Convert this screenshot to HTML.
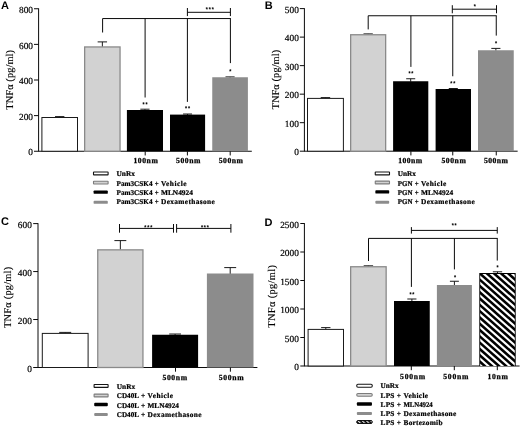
<!DOCTYPE html>
<html><head><meta charset="utf-8"><title>Figure</title>
<style>
html,body{margin:0;padding:0;background:#fff;}
body{width:520px;height:426px;overflow:hidden;font-family:"Liberation Serif",serif;}
svg{display:block;filter:blur(0.35px);} text{text-rendering:geometricPrecision;}
</style></head><body>
<svg width="520" height="426" viewBox="0 0 520 426">
<defs>
<pattern id="hatch" patternUnits="userSpaceOnUse" width="4.5" height="4.5" patternTransform="rotate(40) translate(0,1.2)">
<rect width="4.5" height="4.5" fill="#fff"/><rect y="0" width="4.5" height="2.5" fill="#000"/>
</pattern>
<pattern id="hatch2" patternUnits="userSpaceOnUse" width="3" height="3" patternTransform="rotate(45)">
<rect width="3" height="3" fill="#fff"/><rect y="0" width="3" height="1.7" fill="#000"/>
</pattern>
</defs>
<rect width="520" height="426" fill="#fff"/>
<text x="1.00" y="9.00" font-size="11.0" text-anchor="start" font-weight="bold" font-family="Liberation Sans" >A</text>
<line x1="38.60" y1="8.35" x2="38.60" y2="151.25" stroke="#0a0a0a" stroke-width="1.0"/>
<line x1="38.20" y1="151.25" x2="251.80" y2="151.25" stroke="#0a0a0a" stroke-width="1.0"/>
<line x1="34.00" y1="151.25" x2="38.60" y2="151.25" stroke="#0a0a0a" stroke-width="1.0"/>
<text x="33.00" y="155.45" font-size="9.3" text-anchor="end" font-family="Liberation Serif" stroke="#000" stroke-width="0.2">0</text>
<line x1="34.00" y1="115.62" x2="38.60" y2="115.62" stroke="#0a0a0a" stroke-width="1.0"/>
<text x="33.00" y="119.83" font-size="9.3" text-anchor="end" font-family="Liberation Serif" stroke="#000" stroke-width="0.2">200</text>
<line x1="34.00" y1="80.00" x2="38.60" y2="80.00" stroke="#0a0a0a" stroke-width="1.0"/>
<text x="33.00" y="84.20" font-size="9.3" text-anchor="end" font-family="Liberation Serif" stroke="#000" stroke-width="0.2">400</text>
<line x1="34.00" y1="44.38" x2="38.60" y2="44.38" stroke="#0a0a0a" stroke-width="1.0"/>
<text x="33.00" y="48.58" font-size="9.3" text-anchor="end" font-family="Liberation Serif" stroke="#000" stroke-width="0.2">600</text>
<line x1="34.00" y1="8.75" x2="38.60" y2="8.75" stroke="#0a0a0a" stroke-width="1.0"/>
<text x="33.00" y="12.95" font-size="9.3" text-anchor="end" font-family="Liberation Serif" stroke="#000" stroke-width="0.2">800</text>
<text transform="translate(13.10,79.80) rotate(-90)" font-size="10.4" letter-spacing="0.08" stroke="#000" stroke-width="0.12" text-anchor="middle" font-family="Liberation Serif">TNFα (pg/ml)</text>
<line x1="59.70" y1="116.60" x2="59.70" y2="117.50" stroke="#1a1a1a" stroke-width="1.0"/>
<line x1="55.02" y1="116.60" x2="64.38" y2="116.60" stroke="#1a1a1a" stroke-width="1.0"/>
<rect x="41.90" y="117.50" width="35.60" height="33.75" fill="#ffffff" stroke="#1a1a1a" stroke-width="1.0"/>
<line x1="102.35" y1="41.90" x2="102.35" y2="46.80" stroke="#1a1a1a" stroke-width="1.0"/>
<line x1="97.65" y1="41.90" x2="107.05" y2="41.90" stroke="#1a1a1a" stroke-width="1.0"/>
<rect x="84.65" y="46.95" width="35.40" height="104.30" fill="#d2d2d2" stroke="#8a8a8a" stroke-width="1.3"/>
<line x1="144.95" y1="109.20" x2="144.95" y2="110.50" stroke="#1a1a1a" stroke-width="1.0"/>
<line x1="140.33" y1="109.20" x2="149.57" y2="109.20" stroke="#1a1a1a" stroke-width="1.0"/>
<rect x="126.90" y="110.00" width="36.10" height="41.25" fill="#000000"/>
<line x1="187.55" y1="114.00" x2="187.55" y2="115.10" stroke="#1a1a1a" stroke-width="1.0"/>
<line x1="183.06" y1="114.00" x2="192.04" y2="114.00" stroke="#1a1a1a" stroke-width="1.0"/>
<rect x="170.00" y="114.60" width="35.10" height="36.65" fill="#000000"/>
<line x1="230.07" y1="76.90" x2="230.07" y2="77.75" stroke="#1a1a1a" stroke-width="1.0"/>
<line x1="225.51" y1="76.90" x2="234.64" y2="76.90" stroke="#1a1a1a" stroke-width="1.0"/>
<rect x="212.25" y="77.25" width="35.65" height="74.00" fill="#8c8c8c"/>
<line x1="145.20" y1="151.25" x2="145.20" y2="155.45" stroke="#0a0a0a" stroke-width="1.0"/>
<text x="133.50" y="163.15" font-size="7.7" font-weight="bold" font-family="Liberation Serif" textLength="24.30" lengthAdjust="spacing" stroke="#000" stroke-width="0.25">100nm</text>
<line x1="187.40" y1="151.25" x2="187.40" y2="155.45" stroke="#0a0a0a" stroke-width="1.0"/>
<text x="176.10" y="163.15" font-size="7.7" font-weight="bold" font-family="Liberation Serif" textLength="24.30" lengthAdjust="spacing" stroke="#000" stroke-width="0.25">500nm</text>
<line x1="230.20" y1="151.25" x2="230.20" y2="155.45" stroke="#0a0a0a" stroke-width="1.0"/>
<text x="218.70" y="163.15" font-size="7.7" font-weight="bold" font-family="Liberation Serif" textLength="24.30" lengthAdjust="spacing" stroke="#000" stroke-width="0.25">500nm</text>
<rect x="93.50" y="171.95" width="14.60" height="2.9" rx="0.4" fill="#fff" stroke="#151515" stroke-width="1.1"/>
<text x="116.50" y="176.10" font-size="7.35" font-weight="bold" font-family="Liberation Serif" textLength="18.40" lengthAdjust="spacing" stroke="#000" stroke-width="0.22">UnRx</text>
<rect x="93.50" y="181.20" width="14.60" height="2.8" rx="0.4" fill="#d2d2d2" stroke="#7c7c7c" stroke-width="1.1"/>
<text x="116.50" y="185.50" font-size="7.35" font-weight="bold" font-family="Liberation Serif" textLength="36.00" lengthAdjust="spacingAndGlyphs" stroke="#000" stroke-width="0.22">Pam3CSK4</text>
<text x="154.80" y="185.50" font-size="7.35" font-weight="bold" font-family="Liberation Serif" textLength="3.95" lengthAdjust="spacingAndGlyphs" stroke="#000" stroke-width="0.22">+</text>
<text x="161.00" y="185.50" font-size="7.35" font-weight="bold" font-family="Liberation Serif" textLength="25.50" lengthAdjust="spacing" stroke="#000" stroke-width="0.22">Vehicle</text>
<rect x="93.60" y="190.40" width="14.20" height="3.4" rx="0.9" fill="#000"/>
<text x="116.50" y="194.90" font-size="7.35" font-weight="bold" font-family="Liberation Serif" textLength="36.00" lengthAdjust="spacingAndGlyphs" stroke="#000" stroke-width="0.22">Pam3CSK4</text>
<text x="154.80" y="194.90" font-size="7.35" font-weight="bold" font-family="Liberation Serif" textLength="3.95" lengthAdjust="spacingAndGlyphs" stroke="#000" stroke-width="0.22">+</text>
<text x="161.00" y="194.90" font-size="7.35" font-weight="bold" font-family="Liberation Serif" textLength="31.90" lengthAdjust="spacing" stroke="#000" stroke-width="0.22">MLN4924</text>
<rect x="93.60" y="200.80" width="14.20" height="3.0" rx="0.9" fill="#8c8c8c"/>
<text x="116.50" y="204.30" font-size="7.35" font-weight="bold" font-family="Liberation Serif" textLength="36.00" lengthAdjust="spacingAndGlyphs" stroke="#000" stroke-width="0.22">Pam3CSK4</text>
<text x="154.80" y="204.30" font-size="7.35" font-weight="bold" font-family="Liberation Serif" textLength="3.95" lengthAdjust="spacingAndGlyphs" stroke="#000" stroke-width="0.22">+</text>
<text x="161.00" y="204.30" font-size="7.35" font-weight="bold" font-family="Liberation Serif" textLength="53.75" lengthAdjust="spacing" stroke="#000" stroke-width="0.22">Dexamethasone</text>
<line x1="102.60" y1="18.55" x2="230.85" y2="18.55" stroke="#0a0a0a" stroke-width="1.0"/>
<line x1="102.60" y1="18.55" x2="102.60" y2="32.50" stroke="#0a0a0a" stroke-width="1.0"/>
<line x1="145.10" y1="18.55" x2="145.10" y2="97.50" stroke="#0a0a0a" stroke-width="1.0"/>
<line x1="187.40" y1="18.55" x2="187.40" y2="101.90" stroke="#0a0a0a" stroke-width="1.0"/>
<line x1="230.40" y1="18.55" x2="230.40" y2="63.10" stroke="#0a0a0a" stroke-width="1.0"/>
<line x1="187.40" y1="8.00" x2="187.40" y2="16.10" stroke="#0a0a0a" stroke-width="1.0"/>
<line x1="230.40" y1="8.00" x2="230.40" y2="16.10" stroke="#0a0a0a" stroke-width="1.0"/>
<line x1="187.40" y1="12.30" x2="230.40" y2="12.30" stroke="#0a0a0a" stroke-width="1.0"/>
<text x="210.18" y="11.12" font-size="5.3" text-anchor="middle" font-weight="bold" letter-spacing="0.85" font-family="Liberation Sans" stroke="#000" stroke-width="0.15">***</text>
<text x="145.43" y="105.52" font-size="5.3" text-anchor="middle" font-weight="bold" letter-spacing="0.85" font-family="Liberation Sans" stroke="#000" stroke-width="0.15">**</text>
<text x="187.93" y="110.32" font-size="5.3" text-anchor="middle" font-weight="bold" letter-spacing="0.85" font-family="Liberation Sans" stroke="#000" stroke-width="0.15">**</text>
<text x="230.68" y="73.27" font-size="5.3" text-anchor="middle" font-weight="bold" letter-spacing="0.85" font-family="Liberation Sans" stroke="#000" stroke-width="0.15">*</text>
<text x="264.70" y="9.10" font-size="11.0" text-anchor="start" font-weight="bold" font-family="Liberation Sans" >B</text>
<line x1="304.40" y1="8.20" x2="304.40" y2="151.20" stroke="#0a0a0a" stroke-width="1.0"/>
<line x1="304.00" y1="151.20" x2="517.65" y2="151.20" stroke="#0a0a0a" stroke-width="1.0"/>
<line x1="299.80" y1="151.20" x2="304.40" y2="151.20" stroke="#0a0a0a" stroke-width="1.0"/>
<text x="298.80" y="155.40" font-size="9.3" text-anchor="end" font-family="Liberation Serif" stroke="#000" stroke-width="0.2">0</text>
<line x1="299.80" y1="122.68" x2="304.40" y2="122.68" stroke="#0a0a0a" stroke-width="1.0"/>
<text x="298.80" y="126.88" font-size="9.3" text-anchor="end" font-family="Liberation Serif" stroke="#000" stroke-width="0.2">100</text>
<line x1="299.80" y1="94.16" x2="304.40" y2="94.16" stroke="#0a0a0a" stroke-width="1.0"/>
<text x="298.80" y="98.36" font-size="9.3" text-anchor="end" font-family="Liberation Serif" stroke="#000" stroke-width="0.2">200</text>
<line x1="299.80" y1="65.64" x2="304.40" y2="65.64" stroke="#0a0a0a" stroke-width="1.0"/>
<text x="298.80" y="69.84" font-size="9.3" text-anchor="end" font-family="Liberation Serif" stroke="#000" stroke-width="0.2">300</text>
<line x1="299.80" y1="37.12" x2="304.40" y2="37.12" stroke="#0a0a0a" stroke-width="1.0"/>
<text x="298.80" y="41.32" font-size="9.3" text-anchor="end" font-family="Liberation Serif" stroke="#000" stroke-width="0.2">400</text>
<line x1="299.80" y1="8.60" x2="304.40" y2="8.60" stroke="#0a0a0a" stroke-width="1.0"/>
<text x="298.80" y="12.80" font-size="9.3" text-anchor="end" font-family="Liberation Serif" stroke="#000" stroke-width="0.2">500</text>
<text transform="translate(278.80,79.60) rotate(-90)" font-size="10.4" letter-spacing="0.08" stroke="#000" stroke-width="0.12" text-anchor="middle" font-family="Liberation Serif">TNFα (pg/ml)</text>
<line x1="325.45" y1="97.60" x2="325.45" y2="98.40" stroke="#1a1a1a" stroke-width="1.0"/>
<line x1="320.73" y1="97.60" x2="330.17" y2="97.60" stroke="#1a1a1a" stroke-width="1.0"/>
<rect x="307.50" y="98.40" width="35.90" height="52.80" fill="#ffffff" stroke="#1a1a1a" stroke-width="1.0"/>
<line x1="368.15" y1="33.90" x2="368.15" y2="34.60" stroke="#1a1a1a" stroke-width="1.0"/>
<line x1="363.50" y1="33.90" x2="372.80" y2="33.90" stroke="#1a1a1a" stroke-width="1.0"/>
<rect x="350.65" y="34.75" width="35.00" height="116.45" fill="#d2d2d2" stroke="#8a8a8a" stroke-width="1.3"/>
<line x1="410.70" y1="78.75" x2="410.70" y2="81.75" stroke="#1a1a1a" stroke-width="1.0"/>
<line x1="406.19" y1="78.75" x2="415.21" y2="78.75" stroke="#1a1a1a" stroke-width="1.0"/>
<rect x="393.10" y="81.25" width="35.20" height="69.95" fill="#000000"/>
<line x1="453.30" y1="88.50" x2="453.30" y2="89.50" stroke="#1a1a1a" stroke-width="1.0"/>
<line x1="448.77" y1="88.50" x2="457.83" y2="88.50" stroke="#1a1a1a" stroke-width="1.0"/>
<rect x="435.60" y="89.00" width="35.40" height="62.20" fill="#000000"/>
<line x1="495.88" y1="48.40" x2="495.88" y2="50.75" stroke="#1a1a1a" stroke-width="1.0"/>
<line x1="491.30" y1="48.40" x2="500.45" y2="48.40" stroke="#1a1a1a" stroke-width="1.0"/>
<rect x="478.00" y="50.25" width="35.75" height="100.95" fill="#8c8c8c"/>
<line x1="410.90" y1="151.20" x2="410.90" y2="155.40" stroke="#0a0a0a" stroke-width="1.0"/>
<text x="398.30" y="163.10" font-size="7.7" font-weight="bold" font-family="Liberation Serif" textLength="23.90" lengthAdjust="spacing" stroke="#000" stroke-width="0.25">100nm</text>
<line x1="452.75" y1="151.20" x2="452.75" y2="155.40" stroke="#0a0a0a" stroke-width="1.0"/>
<text x="441.50" y="163.10" font-size="7.7" font-weight="bold" font-family="Liberation Serif" textLength="24.30" lengthAdjust="spacing" stroke="#000" stroke-width="0.25">500nm</text>
<line x1="496.25" y1="151.20" x2="496.25" y2="155.40" stroke="#0a0a0a" stroke-width="1.0"/>
<text x="484.00" y="163.10" font-size="7.7" font-weight="bold" font-family="Liberation Serif" textLength="23.90" lengthAdjust="spacing" stroke="#000" stroke-width="0.25">500nm</text>
<rect x="375.25" y="171.95" width="14.25" height="2.9" rx="0.4" fill="#fff" stroke="#151515" stroke-width="1.1"/>
<text x="397.75" y="176.25" font-size="7.35" font-weight="bold" font-family="Liberation Serif" textLength="18.25" lengthAdjust="spacingAndGlyphs" stroke="#000" stroke-width="0.22">UnRx</text>
<rect x="375.25" y="181.10" width="14.25" height="2.8" rx="0.4" fill="#d2d2d2" stroke="#7c7c7c" stroke-width="1.1"/>
<text x="397.75" y="185.60" font-size="7.35" font-weight="bold" font-family="Liberation Serif" textLength="14.75" lengthAdjust="spacingAndGlyphs" stroke="#000" stroke-width="0.22">PGN</text>
<text x="414.80" y="185.60" font-size="7.35" font-weight="bold" font-family="Liberation Serif" textLength="3.95" lengthAdjust="spacingAndGlyphs" stroke="#000" stroke-width="0.22">+</text>
<text x="421.00" y="185.60" font-size="7.35" font-weight="bold" font-family="Liberation Serif" textLength="25.25" lengthAdjust="spacing" stroke="#000" stroke-width="0.22">Vehicle</text>
<rect x="375.35" y="190.20" width="13.85" height="3.4" rx="0.9" fill="#000"/>
<text x="397.75" y="195.00" font-size="7.35" font-weight="bold" font-family="Liberation Serif" textLength="14.75" lengthAdjust="spacingAndGlyphs" stroke="#000" stroke-width="0.22">PGN</text>
<text x="414.80" y="195.00" font-size="7.35" font-weight="bold" font-family="Liberation Serif" textLength="3.95" lengthAdjust="spacingAndGlyphs" stroke="#000" stroke-width="0.22">+</text>
<text x="421.00" y="195.00" font-size="7.35" font-weight="bold" font-family="Liberation Serif" textLength="32.10" lengthAdjust="spacing" stroke="#000" stroke-width="0.22">MLN4924</text>
<rect x="375.35" y="200.75" width="13.85" height="3.0" rx="0.9" fill="#8c8c8c"/>
<text x="397.75" y="204.40" font-size="7.35" font-weight="bold" font-family="Liberation Serif" textLength="14.75" lengthAdjust="spacingAndGlyphs" stroke="#000" stroke-width="0.22">PGN</text>
<text x="414.80" y="204.40" font-size="7.35" font-weight="bold" font-family="Liberation Serif" textLength="3.95" lengthAdjust="spacingAndGlyphs" stroke="#000" stroke-width="0.22">+</text>
<text x="421.00" y="204.40" font-size="7.35" font-weight="bold" font-family="Liberation Serif" textLength="53.75" lengthAdjust="spacing" stroke="#000" stroke-width="0.22">Dexamethasone</text>
<line x1="368.20" y1="15.75" x2="496.70" y2="15.75" stroke="#0a0a0a" stroke-width="1.0"/>
<line x1="368.20" y1="15.75" x2="368.20" y2="29.40" stroke="#0a0a0a" stroke-width="1.0"/>
<line x1="410.90" y1="15.75" x2="410.90" y2="66.90" stroke="#0a0a0a" stroke-width="1.0"/>
<line x1="452.75" y1="15.75" x2="452.75" y2="76.25" stroke="#0a0a0a" stroke-width="1.0"/>
<line x1="496.25" y1="15.75" x2="496.25" y2="35.60" stroke="#0a0a0a" stroke-width="1.0"/>
<line x1="452.30" y1="5.20" x2="452.30" y2="13.30" stroke="#0a0a0a" stroke-width="1.0"/>
<line x1="496.50" y1="5.20" x2="496.50" y2="13.30" stroke="#0a0a0a" stroke-width="1.0"/>
<line x1="452.30" y1="9.20" x2="496.50" y2="9.20" stroke="#0a0a0a" stroke-width="1.0"/>
<text x="475.18" y="8.22" font-size="5.3" text-anchor="middle" font-weight="bold" letter-spacing="0.85" font-family="Liberation Sans" stroke="#000" stroke-width="0.15">*</text>
<text x="411.32" y="75.12" font-size="5.3" text-anchor="middle" font-weight="bold" letter-spacing="0.85" font-family="Liberation Sans" stroke="#000" stroke-width="0.15">**</text>
<text x="453.18" y="84.52" font-size="5.3" text-anchor="middle" font-weight="bold" letter-spacing="0.85" font-family="Liberation Sans" stroke="#000" stroke-width="0.15">**</text>
<text x="496.43" y="45.27" font-size="5.3" text-anchor="middle" font-weight="bold" letter-spacing="0.85" font-family="Liberation Sans" stroke="#000" stroke-width="0.15">*</text>
<text x="1.00" y="225.40" font-size="11.0" text-anchor="start" font-weight="bold" font-family="Liberation Sans" >C</text>
<line x1="38.00" y1="223.20" x2="38.00" y2="367.50" stroke="#0a0a0a" stroke-width="1.0"/>
<line x1="37.60" y1="367.50" x2="257.40" y2="367.50" stroke="#0a0a0a" stroke-width="1.0"/>
<line x1="33.20" y1="367.50" x2="38.00" y2="367.50" stroke="#0a0a0a" stroke-width="1.0"/>
<text x="31.80" y="371.70" font-size="9.3" text-anchor="end" font-family="Liberation Serif" stroke="#000" stroke-width="0.2">0</text>
<line x1="33.20" y1="319.53" x2="38.00" y2="319.53" stroke="#0a0a0a" stroke-width="1.0"/>
<text x="31.80" y="323.73" font-size="9.3" text-anchor="end" font-family="Liberation Serif" stroke="#000" stroke-width="0.2">200</text>
<line x1="33.20" y1="271.57" x2="38.00" y2="271.57" stroke="#0a0a0a" stroke-width="1.0"/>
<text x="31.80" y="275.77" font-size="9.3" text-anchor="end" font-family="Liberation Serif" stroke="#000" stroke-width="0.2">400</text>
<line x1="33.20" y1="223.60" x2="38.00" y2="223.60" stroke="#0a0a0a" stroke-width="1.0"/>
<text x="31.80" y="227.80" font-size="9.3" text-anchor="end" font-family="Liberation Serif" stroke="#000" stroke-width="0.2">600</text>
<text transform="translate(10.50,297.30) rotate(-90)" font-size="10.4" letter-spacing="0.2" stroke="#000" stroke-width="0.12" text-anchor="middle" font-family="Liberation Serif">TNFα (pg/ml)</text>
<line x1="65.20" y1="332.40" x2="65.20" y2="333.40" stroke="#1a1a1a" stroke-width="1.0"/>
<line x1="59.21" y1="332.40" x2="71.19" y2="332.40" stroke="#1a1a1a" stroke-width="1.0"/>
<rect x="42.30" y="333.40" width="45.80" height="34.10" fill="#ffffff" stroke="#1a1a1a" stroke-width="1.0"/>
<line x1="120.35" y1="240.60" x2="120.35" y2="249.70" stroke="#1a1a1a" stroke-width="1.0"/>
<line x1="114.40" y1="240.60" x2="126.30" y2="240.60" stroke="#1a1a1a" stroke-width="1.0"/>
<rect x="97.75" y="249.85" width="45.20" height="117.65" fill="#d2d2d2" stroke="#8a8a8a" stroke-width="1.3"/>
<line x1="175.10" y1="334.00" x2="175.10" y2="335.25" stroke="#1a1a1a" stroke-width="1.0"/>
<line x1="169.21" y1="334.00" x2="180.99" y2="334.00" stroke="#1a1a1a" stroke-width="1.0"/>
<rect x="152.10" y="334.75" width="46.00" height="32.75" fill="#000000"/>
<line x1="230.20" y1="267.60" x2="230.20" y2="274.00" stroke="#1a1a1a" stroke-width="1.0"/>
<line x1="224.24" y1="267.60" x2="236.16" y2="267.60" stroke="#1a1a1a" stroke-width="1.0"/>
<rect x="206.90" y="273.50" width="46.60" height="94.00" fill="#8c8c8c"/>
<line x1="175.50" y1="367.50" x2="175.50" y2="371.70" stroke="#0a0a0a" stroke-width="1.0"/>
<text x="162.45" y="379.50" font-size="7.7" font-weight="bold" font-family="Liberation Serif" textLength="24.60" lengthAdjust="spacing" stroke="#000" stroke-width="0.25">500nm</text>
<line x1="230.40" y1="367.50" x2="230.40" y2="371.70" stroke="#0a0a0a" stroke-width="1.0"/>
<text x="218.80" y="379.50" font-size="7.7" font-weight="bold" font-family="Liberation Serif" textLength="24.90" lengthAdjust="spacing" stroke="#000" stroke-width="0.25">500nm</text>
<rect x="94.10" y="384.45" width="14.00" height="2.9" rx="0.4" fill="#fff" stroke="#151515" stroke-width="1.1"/>
<text x="116.75" y="388.60" font-size="7.35" font-weight="bold" font-family="Liberation Serif" textLength="18.50" lengthAdjust="spacing" stroke="#000" stroke-width="0.22">UnRx</text>
<rect x="94.10" y="394.10" width="14.00" height="2.8" rx="0.4" fill="#d2d2d2" stroke="#7c7c7c" stroke-width="1.1"/>
<text x="116.75" y="398.25" font-size="7.35" font-weight="bold" font-family="Liberation Serif" textLength="22.25" lengthAdjust="spacingAndGlyphs" stroke="#000" stroke-width="0.22">CD40L</text>
<text x="141.05" y="398.25" font-size="7.35" font-weight="bold" font-family="Liberation Serif" textLength="4.20" lengthAdjust="spacing" stroke="#000" stroke-width="0.22">+</text>
<text x="147.50" y="398.25" font-size="7.35" font-weight="bold" font-family="Liberation Serif" textLength="25.60" lengthAdjust="spacing" stroke="#000" stroke-width="0.22">Vehicle</text>
<rect x="94.20" y="402.80" width="13.60" height="3.4" rx="0.9" fill="#000"/>
<text x="116.75" y="407.60" font-size="7.35" font-weight="bold" font-family="Liberation Serif" textLength="22.25" lengthAdjust="spacingAndGlyphs" stroke="#000" stroke-width="0.22">CD40L</text>
<text x="141.05" y="407.60" font-size="7.35" font-weight="bold" font-family="Liberation Serif" textLength="4.20" lengthAdjust="spacing" stroke="#000" stroke-width="0.22">+</text>
<text x="147.50" y="407.60" font-size="7.35" font-weight="bold" font-family="Liberation Serif" textLength="31.50" lengthAdjust="spacingAndGlyphs" stroke="#000" stroke-width="0.22">MLN4924</text>
<rect x="94.20" y="413.00" width="13.60" height="3.0" rx="0.9" fill="#8c8c8c"/>
<text x="116.75" y="417.00" font-size="7.35" font-weight="bold" font-family="Liberation Serif" textLength="22.25" lengthAdjust="spacingAndGlyphs" stroke="#000" stroke-width="0.22">CD40L</text>
<text x="141.05" y="417.00" font-size="7.35" font-weight="bold" font-family="Liberation Serif" textLength="4.20" lengthAdjust="spacing" stroke="#000" stroke-width="0.22">+</text>
<text x="147.50" y="417.00" font-size="7.35" font-weight="bold" font-family="Liberation Serif" textLength="54.00" lengthAdjust="spacing" stroke="#000" stroke-width="0.22">Dexamethasone</text>
<line x1="119.50" y1="228.40" x2="173.50" y2="228.40" stroke="#0a0a0a" stroke-width="1.0"/>
<line x1="176.60" y1="228.40" x2="230.90" y2="228.40" stroke="#0a0a0a" stroke-width="1.0"/>
<line x1="119.50" y1="224.00" x2="119.50" y2="232.70" stroke="#0a0a0a" stroke-width="1.0"/>
<line x1="173.50" y1="224.00" x2="173.50" y2="232.70" stroke="#0a0a0a" stroke-width="1.0"/>
<line x1="176.60" y1="224.00" x2="176.60" y2="232.70" stroke="#0a0a0a" stroke-width="1.0"/>
<line x1="230.90" y1="224.00" x2="230.90" y2="232.70" stroke="#0a0a0a" stroke-width="1.0"/>
<text x="148.68" y="228.92" font-size="5.3" text-anchor="middle" font-weight="bold" letter-spacing="0.85" font-family="Liberation Sans" stroke="#000" stroke-width="0.15">***</text>
<text x="205.33" y="228.92" font-size="5.3" text-anchor="middle" font-weight="bold" letter-spacing="0.85" font-family="Liberation Sans" stroke="#000" stroke-width="0.15">***</text>
<text x="264.50" y="225.50" font-size="11.0" text-anchor="start" font-weight="bold" font-family="Liberation Sans" >D</text>
<line x1="304.40" y1="223.10" x2="304.40" y2="366.00" stroke="#0a0a0a" stroke-width="1.0"/>
<line x1="304.00" y1="366.00" x2="519.60" y2="366.00" stroke="#0a0a0a" stroke-width="1.0"/>
<line x1="300.30" y1="366.00" x2="304.40" y2="366.00" stroke="#0a0a0a" stroke-width="1.0"/>
<text x="298.80" y="370.20" font-size="9.3" text-anchor="end" font-family="Liberation Serif" stroke="#000" stroke-width="0.2">0</text>
<line x1="300.30" y1="337.50" x2="304.40" y2="337.50" stroke="#0a0a0a" stroke-width="1.0"/>
<text x="298.80" y="341.70" font-size="9.3" text-anchor="end" font-family="Liberation Serif" stroke="#000" stroke-width="0.2">500</text>
<line x1="300.30" y1="309.00" x2="304.40" y2="309.00" stroke="#0a0a0a" stroke-width="1.0"/>
<text x="298.80" y="313.20" font-size="9.3" text-anchor="end" font-family="Liberation Serif" stroke="#000" stroke-width="0.2">1000</text>
<line x1="300.30" y1="280.50" x2="304.40" y2="280.50" stroke="#0a0a0a" stroke-width="1.0"/>
<text x="298.80" y="284.70" font-size="9.3" text-anchor="end" font-family="Liberation Serif" stroke="#000" stroke-width="0.2">1500</text>
<line x1="300.30" y1="252.00" x2="304.40" y2="252.00" stroke="#0a0a0a" stroke-width="1.0"/>
<text x="298.80" y="256.20" font-size="9.3" text-anchor="end" font-family="Liberation Serif" stroke="#000" stroke-width="0.2">2000</text>
<line x1="300.30" y1="223.50" x2="304.40" y2="223.50" stroke="#0a0a0a" stroke-width="1.0"/>
<text x="298.80" y="227.70" font-size="9.3" text-anchor="end" font-family="Liberation Serif" stroke="#000" stroke-width="0.2">2500</text>
<text transform="translate(274.50,296.20) rotate(-90)" font-size="10.4" letter-spacing="0.35" stroke="#000" stroke-width="0.12" text-anchor="middle" font-family="Liberation Serif">TNFα (pg/ml)</text>
<line x1="325.80" y1="327.60" x2="325.80" y2="329.40" stroke="#1a1a1a" stroke-width="1.0"/>
<line x1="321.14" y1="327.60" x2="330.46" y2="327.60" stroke="#1a1a1a" stroke-width="1.0"/>
<rect x="308.10" y="329.40" width="35.40" height="36.60" fill="#ffffff" stroke="#1a1a1a" stroke-width="1.0"/>
<line x1="368.40" y1="265.80" x2="368.40" y2="266.60" stroke="#1a1a1a" stroke-width="1.0"/>
<line x1="363.69" y1="265.80" x2="373.11" y2="265.80" stroke="#1a1a1a" stroke-width="1.0"/>
<rect x="350.65" y="266.75" width="35.50" height="99.25" fill="#d2d2d2" stroke="#8a8a8a" stroke-width="1.3"/>
<line x1="411.88" y1="299.00" x2="411.88" y2="301.50" stroke="#1a1a1a" stroke-width="1.0"/>
<line x1="407.30" y1="299.00" x2="416.45" y2="299.00" stroke="#1a1a1a" stroke-width="1.0"/>
<rect x="394.00" y="301.00" width="35.75" height="65.00" fill="#000000"/>
<line x1="454.40" y1="281.25" x2="454.40" y2="285.50" stroke="#1a1a1a" stroke-width="1.0"/>
<line x1="449.92" y1="281.25" x2="458.88" y2="281.25" stroke="#1a1a1a" stroke-width="1.0"/>
<rect x="436.90" y="285.00" width="35.00" height="81.00" fill="#8c8c8c"/>
<line x1="497.50" y1="271.80" x2="497.50" y2="273.50" stroke="#1a1a1a" stroke-width="1.0"/>
<line x1="492.84" y1="271.80" x2="502.16" y2="271.80" stroke="#1a1a1a" stroke-width="1.0"/>
<clipPath id="hc"><rect x="480.20" y="273.90" width="34.60" height="92.10"/></clipPath>
<rect x="479.30" y="273.00" width="36.40" height="93.00" fill="#000"/>
<g clip-path="url(#hc)" stroke="#fff" stroke-width="2.15">
<line x1="477.30" y1="242.85" x2="517.70" y2="278.68"/>
<line x1="477.30" y1="249.15" x2="517.70" y2="284.98"/>
<line x1="477.30" y1="255.45" x2="517.70" y2="291.28"/>
<line x1="477.30" y1="261.75" x2="517.70" y2="297.58"/>
<line x1="477.30" y1="268.05" x2="517.70" y2="303.88"/>
<line x1="477.30" y1="274.35" x2="517.70" y2="310.18"/>
<line x1="477.30" y1="280.65" x2="517.70" y2="316.48"/>
<line x1="477.30" y1="286.95" x2="517.70" y2="322.78"/>
<line x1="477.30" y1="293.25" x2="517.70" y2="329.08"/>
<line x1="477.30" y1="299.55" x2="517.70" y2="335.38"/>
<line x1="477.30" y1="305.85" x2="517.70" y2="341.68"/>
<line x1="477.30" y1="312.15" x2="517.70" y2="347.98"/>
<line x1="477.30" y1="318.45" x2="517.70" y2="354.28"/>
<line x1="477.30" y1="324.75" x2="517.70" y2="360.58"/>
<line x1="477.30" y1="331.05" x2="517.70" y2="366.88"/>
<line x1="477.30" y1="337.35" x2="517.70" y2="373.18"/>
<line x1="477.30" y1="343.65" x2="517.70" y2="379.48"/>
<line x1="477.30" y1="349.95" x2="517.70" y2="385.78"/>
<line x1="477.30" y1="356.25" x2="517.70" y2="392.08"/>
<line x1="477.30" y1="362.55" x2="517.70" y2="398.38"/>
<line x1="477.30" y1="368.85" x2="517.70" y2="404.68"/>
<line x1="477.30" y1="375.15" x2="517.70" y2="410.98"/>
<line x1="477.30" y1="381.45" x2="517.70" y2="417.28"/>
<line x1="477.30" y1="387.75" x2="517.70" y2="423.58"/>
<line x1="477.30" y1="394.05" x2="517.70" y2="429.88"/>
<line x1="477.30" y1="400.35" x2="517.70" y2="436.18"/>
</g>
<line x1="411.30" y1="366.00" x2="411.30" y2="370.20" stroke="#0a0a0a" stroke-width="1.0"/>
<text x="400.05" y="379.30" font-size="7.7" font-weight="bold" font-family="Liberation Serif" textLength="25.20" lengthAdjust="spacing" stroke="#000" stroke-width="0.25">500nm</text>
<line x1="454.30" y1="366.00" x2="454.30" y2="370.20" stroke="#0a0a0a" stroke-width="1.0"/>
<text x="443.30" y="379.30" font-size="7.7" font-weight="bold" font-family="Liberation Serif" textLength="25.10" lengthAdjust="spacing" stroke="#000" stroke-width="0.25">500nm</text>
<line x1="497.30" y1="366.00" x2="497.30" y2="370.20" stroke="#0a0a0a" stroke-width="1.0"/>
<text x="487.40" y="379.30" font-size="7.7" font-weight="bold" font-family="Liberation Serif" textLength="20.50" lengthAdjust="spacing" stroke="#000" stroke-width="0.25">10nm</text>
<rect x="356.75" y="384.30" width="15.50" height="2.9" rx="1.2" fill="#fff" stroke="#151515" stroke-width="1.1"/>
<text x="380.60" y="388.25" font-size="7.35" font-weight="bold" font-family="Liberation Serif" textLength="18.15" lengthAdjust="spacingAndGlyphs" stroke="#000" stroke-width="0.22">UnRx</text>
<rect x="356.75" y="393.50" width="15.50" height="2.8" rx="1.2" fill="#d2d2d2" stroke="#7c7c7c" stroke-width="1.1"/>
<text x="380.60" y="397.75" font-size="7.35" font-weight="bold" font-family="Liberation Serif" textLength="13.80" lengthAdjust="spacing" stroke="#000" stroke-width="0.22">LPS</text>
<text x="396.80" y="397.75" font-size="7.35" font-weight="bold" font-family="Liberation Serif" textLength="4.20" lengthAdjust="spacing" stroke="#000" stroke-width="0.22">+</text>
<text x="403.50" y="397.75" font-size="7.35" font-weight="bold" font-family="Liberation Serif" textLength="24.60" lengthAdjust="spacing" stroke="#000" stroke-width="0.22">Vehicle</text>
<rect x="356.85" y="402.30" width="15.10" height="3.4" rx="0.9" fill="#000"/>
<text x="380.60" y="406.75" font-size="7.35" font-weight="bold" font-family="Liberation Serif" textLength="13.80" lengthAdjust="spacing" stroke="#000" stroke-width="0.22">LPS</text>
<text x="396.80" y="406.75" font-size="7.35" font-weight="bold" font-family="Liberation Serif" textLength="4.20" lengthAdjust="spacing" stroke="#000" stroke-width="0.22">+</text>
<text x="403.50" y="406.75" font-size="7.35" font-weight="bold" font-family="Liberation Serif" textLength="29.25" lengthAdjust="spacingAndGlyphs" stroke="#000" stroke-width="0.22">MLN4924</text>
<rect x="356.85" y="411.90" width="15.10" height="3.0" rx="0.9" fill="#8c8c8c"/>
<text x="380.60" y="415.75" font-size="7.35" font-weight="bold" font-family="Liberation Serif" textLength="13.80" lengthAdjust="spacing" stroke="#000" stroke-width="0.22">LPS</text>
<text x="396.80" y="415.75" font-size="7.35" font-weight="bold" font-family="Liberation Serif" textLength="4.20" lengthAdjust="spacing" stroke="#000" stroke-width="0.22">+</text>
<text x="403.50" y="415.75" font-size="7.35" font-weight="bold" font-family="Liberation Serif" textLength="52.75" lengthAdjust="spacing" stroke="#000" stroke-width="0.22">Dexamethasone</text>
<rect x="356.75" y="420.60" width="15.50" height="2.8" rx="1.2" fill="url(#hatch2)" stroke="#000" stroke-width="1.0"/>
<text x="380.60" y="424.90" font-size="7.35" font-weight="bold" font-family="Liberation Serif" textLength="13.80" lengthAdjust="spacing" stroke="#000" stroke-width="0.22">LPS</text>
<text x="396.80" y="424.90" font-size="7.35" font-weight="bold" font-family="Liberation Serif" textLength="4.20" lengthAdjust="spacing" stroke="#000" stroke-width="0.22">+</text>
<text x="403.50" y="424.90" font-size="7.35" font-weight="bold" font-family="Liberation Serif" textLength="39.00" lengthAdjust="spacing" stroke="#000" stroke-width="0.22">Bortezomib</text>
<line x1="368.50" y1="238.40" x2="497.70" y2="238.40" stroke="#0a0a0a" stroke-width="1.0"/>
<line x1="368.50" y1="238.40" x2="368.50" y2="261.00" stroke="#0a0a0a" stroke-width="1.0"/>
<line x1="411.40" y1="238.40" x2="411.40" y2="286.90" stroke="#0a0a0a" stroke-width="1.0"/>
<line x1="454.40" y1="238.40" x2="454.40" y2="269.40" stroke="#0a0a0a" stroke-width="1.0"/>
<line x1="497.25" y1="238.40" x2="497.25" y2="260.60" stroke="#0a0a0a" stroke-width="1.0"/>
<line x1="411.40" y1="227.10" x2="411.40" y2="233.60" stroke="#0a0a0a" stroke-width="1.0"/>
<line x1="497.25" y1="227.10" x2="497.25" y2="233.60" stroke="#0a0a0a" stroke-width="1.0"/>
<line x1="411.40" y1="230.40" x2="497.25" y2="230.40" stroke="#0a0a0a" stroke-width="1.0"/>
<text x="454.62" y="227.12" font-size="5.3" text-anchor="middle" font-weight="bold" letter-spacing="0.85" font-family="Liberation Sans" stroke="#000" stroke-width="0.15">**</text>
<text x="412.32" y="295.77" font-size="5.3" text-anchor="middle" font-weight="bold" letter-spacing="0.85" font-family="Liberation Sans" stroke="#000" stroke-width="0.15">**</text>
<text x="455.43" y="278.62" font-size="5.3" text-anchor="middle" font-weight="bold" letter-spacing="0.85" font-family="Liberation Sans" stroke="#000" stroke-width="0.15">*</text>
<text x="497.93" y="269.02" font-size="5.3" text-anchor="middle" font-weight="bold" letter-spacing="0.85" font-family="Liberation Sans" stroke="#000" stroke-width="0.15">*</text>
</svg>
</body></html>
